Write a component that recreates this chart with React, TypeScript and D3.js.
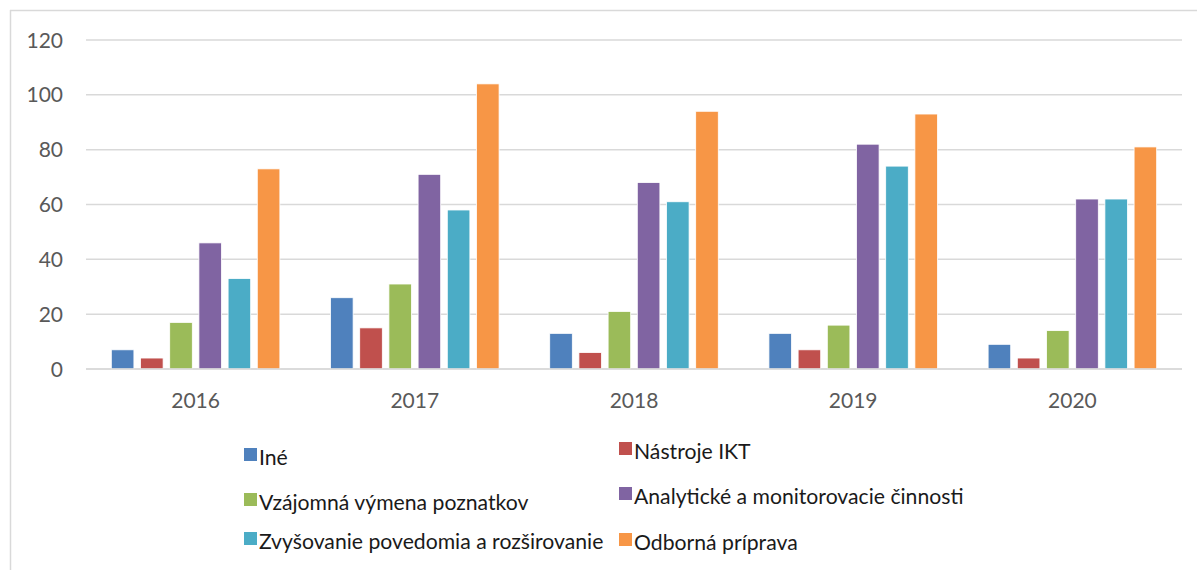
import React, { useEffect, useRef } from "react";
import * as d3 from "d3";

const years = ["2016", "2017", "2018", "2019", "2020"];
const seriesNames = [
  "Iné",
  "Nástroje IKT",
  "Vzájomná výmena poznatkov",
  "Analytické a monitorovacie činnosti",
  "Zvyšovanie povedomia a rozširovanie",
  "Odborná príprava",
];
const seriesColors = ["#4F81BD", "#C0504D", "#9BBB59", "#8064A2", "#4BACC6", "#F79646"];
const ine = [7, 26, 13, 13, 9];
const nastrojeIKT = [4, 15, 6, 7, 4];
const vymenaPoznatkov = [17, 31, 21, 16, 14];
const analytickeCinnosti = [46, 71, 68, 82, 62];
const zvysovaniePovedomia = [33, 58, 61, 74, 62];
const odbornaPriprava = [73, 104, 94, 93, 81];
const seriesValues = [ine, nastrojeIKT, vymenaPoznatkov, analytickeCinnosti, zvysovaniePovedomia, odbornaPriprava];
const yTicks = [0, 20, 40, 60, 80, 100, 120];

const W = 1197;
const H = 570;
const FONT = "Lato, 'Open Sans', sans-serif";

export default function App() {
  const ref = useRef<SVGSVGElement>(null);

  useEffect(() => {
    const svg = d3.select(ref.current);
    svg.selectAll("*").remove();

    const left = 86, right = 1182, top = 40, bottom = 369;
    const y = d3.scaleLinear().domain([0, 120]).range([bottom, top]);
    const x0 = d3.scaleBand<string>().domain(years).range([left, right]).paddingInner(0.231).paddingOuter(0.1155);
    const x1 = d3.scaleBand<number>().domain(d3.range(seriesNames.length)).range([0, x0.bandwidth()]).paddingInner(0.226).paddingOuter(0);

    // frame
    svg.append("line").attr("x1", 10.5).attr("x2", 10.5).attr("y1", 10).attr("y2", H).attr("stroke", "#d9d9d9").attr("stroke-width", 1.5);
    svg.append("line").attr("x1", 10).attr("x2", W).attr("y1", 10.5).attr("y2", 10.5).attr("stroke", "#d9d9d9").attr("stroke-width", 1.5);

    // gridlines
    const g = svg.append("g");
    g.selectAll("line.grid").data(yTicks).join("line")
      .attr("x1", left).attr("x2", right)
      .attr("y1", (d) => y(d)).attr("y2", (d) => y(d))
      .attr("stroke", "#d9d9d9").attr("stroke-width", 1.5);

    g.selectAll("text.ytick").data(yTicks).join("text")
      .attr("x", 63).attr("y", (d) => y(d)).attr("dy", "0.36em")
      .attr("text-anchor", "end").attr("font-family", FONT).attr("font-size", 21).attr("fill", "#595959")
      .text((d) => String(d));

    // bars
    years.forEach((yr, i) => {
      const grp = svg.append("g").attr("transform", `translate(${x0(yr)},0)`);
      seriesValues.forEach((vals, s) => {
        grp.append("rect")
          .attr("x", x1(s)!).attr("width", x1.bandwidth())
          .attr("y", y(vals[i])).attr("height", y(0) - y(vals[i]))
          .attr("fill", seriesColors[s]).attr("stroke", "#fff").attr("stroke-width", 0.8);
      });
    });

    // baseline redraw
    svg.append("line").attr("x1", left).attr("x2", right).attr("y1", y(0)).attr("y2", y(0)).attr("stroke", "#d9d9d9").attr("stroke-width", 1.5);

    // x labels
    svg.selectAll("text.xl").data(years).join("text")
      .attr("x", (d) => x0(d)! + x0.bandwidth() / 2).attr("y", 408)
      .attr("text-anchor", "middle").attr("font-family", FONT).attr("font-size", 21).attr("fill", "#595959")
      .text((d) => d);

    // legend
    const colX = [244, 619];
    const baselines = [[465, 459], [510, 504], [549, 550]];
    seriesNames.forEach((name, i) => {
      const row = Math.floor(i / 2), col = i % 2;
      const bx = colX[col];
      const bl = baselines[row][col];
      svg.append("rect").attr("x", bx).attr("y", bl - 17).attr("width", 13).attr("height", 13).attr("fill", seriesColors[i]);
      svg.append("text").attr("x", bx + 15).attr("y", bl)
        .attr("font-family", FONT).attr("font-size", 21.2).attr("fill", "#1a1a1a")
        .text(name);
    });
  }, []);

  return (
    <svg ref={ref} width={W} height={H} style={{ position: "absolute", left: 0, top: 0, background: "#fff" }} />
  );
}
